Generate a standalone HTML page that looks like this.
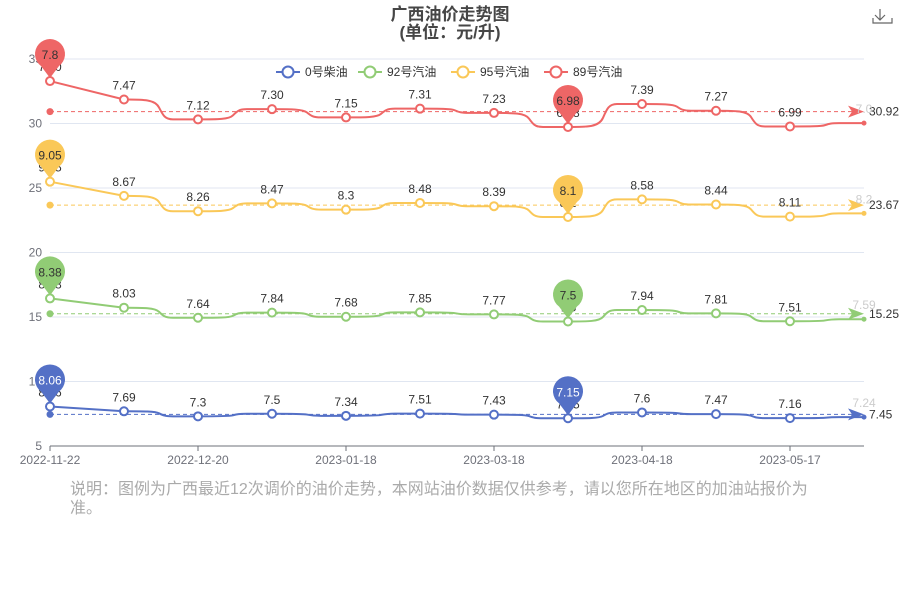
<!DOCTYPE html>
<html><head><meta charset="utf-8"><style>
body{margin:0;background:#fff;font-family:"Liberation Sans","Noto Sans CJK SC",sans-serif}
#wrap{position:relative;width:900px;height:600px}
.note{position:absolute;left:70px;top:480px;width:750px;font-size:16px;line-height:19px;color:#aaa}
</style></head><body>
<div id="wrap">
<svg id="chart" width="900" height="600" style="position:absolute;left:0;top:0"></svg>
<div class="note">说明：图例为广西最近12次调价的油价走势，本网站油价数据仅供参考，请以您所在地区的加油站报价为准。</div>
</div>
<script>
const categories=["2022-11-22","2022-12-06","2022-12-20","2023-01-03","2023-01-18","2023-02-03","2023-03-18","2023-03-31","2023-04-18","2023-05-05","2023-05-17","2023-06-01"];
const seriesNames=["0号柴油","92号汽油","95号汽油","89号汽油"];
const diesel0=[8.06,7.69,7.3,7.5,7.34,7.51,7.43,7.15,7.6,7.47,7.16,7.24];
const gas92=[8.38,8.03,7.64,7.84,7.68,7.85,7.77,7.5,7.94,7.81,7.51,7.59];
const gas95=[9.05,8.67,8.26,8.47,8.3,8.48,8.39,8.1,8.58,8.44,8.11,8.2];
const gas89=[7.8,7.47,7.12,7.30,7.15,7.31,7.23,6.98,7.39,7.27,6.99,7.0];
const labels89=["7.80","7.47","7.12","7.30","7.15","7.31","7.23","6.98","7.39","7.27","6.99","7.0"];
const yTicks=[5,10,15,20,25,30,35];
const xTickIdx=[0,2,4,6,8,10];
const colors=["#5470c6","#91cc75","#fac858","#ee6666"];
const NS="http://www.w3.org/2000/svg";
const svg=document.getElementById('chart');
const X0=50,X1=864,Y0=446,YMIN=5,YMAX=35,YTOP=59;
const x=i=>X0+i*(X1-X0)/(categories.length-1);
const y=v=>Y0-(v-YMIN)*(Y0-YTOP)/(YMAX-YMIN);
function mk(tag,attrs,parent){const e=document.createElementNS(NS,tag);for(const k in attrs)e.setAttribute(k,attrs[k]);(parent||svg).appendChild(e);return e;}
function txt(s,attrs,parent){const e=mk('text',attrs,parent);e.textContent=s;return e;}
// title
const t1=txt("广西油价走势图",{x:450,y:20,'text-anchor':'middle','font-size':17,'font-weight':'bold',fill:'#464646'});

const t2=txt("(单位：元/升)",{x:450,y:38,'text-anchor':'middle','font-size':17,'font-weight':'bold',fill:'#464646'});

// download icon
const dl=mk('path',{d:'M880 9 L880 20 M875 15 L880 20 L885 15 M878 22 L878 22 M873 18 L873 23 L892 23 L892 18',stroke:'#666',fill:'none','stroke-width':1.2});

// grid + y labels
yTicks.forEach(v=>{
 const g=mk('line',{x1:X0,x2:X1,y1:y(v),y2:y(v),stroke:v===5?'#6e7079':'#e0e6f1'});
 
 const l=txt(String(v),{x:42,y:y(v)+4,'text-anchor':'end','font-size':12,fill:'#6e7079'});
 
});
xTickIdx.forEach(i=>{
 const tk=mk('line',{x1:x(i),x2:x(i),y1:Y0,y2:Y0+5,stroke:'#6e7079'});
 
 const l=txt(categories[i],{x:x(i),y:Y0+18,'text-anchor':'middle','font-size':12,fill:'#6e7079'});
 
});
// legend
const legX=[288,370,463,556];
seriesNames.forEach((n,k)=>{
 const g=mk('g',{});
 
 mk('line',{x1:legX[k]-12,x2:legX[k]+12,y1:72,y2:72,stroke:colors[k],'stroke-width':2},g);
 mk('circle',{cx:legX[k],cy:72,r:5.5,fill:'#fff',stroke:colors[k],'stroke-width':2},g);
 txt(n,{x:legX[k]+17,y:76,'font-size':12,fill:'#333'},g);
});
// stacked
const raw=[diesel0,gas92,gas95,gas89];
let acc=categories.map(()=>0);
const stacked=raw.map(s=>{acc=acc.map((a,i)=>a+s[i]);return acc.slice();});
raw.forEach((s,k)=>{
 const st=stacked[k],c=colors[k];
 const g=mk('g',{});
 
 let d=`M${x(0)} ${y(st[0])} L${x(1)} ${y(st[1])}`;
 for(let i=1;i<st.length-1;i++){
  const xa=x(i),xb=x(i+1),xm=(xa+xb)/2,ya=y(st[i]),yb=y(st[i+1]);
  d+=` C${xa+20} ${ya} ${xm-6} ${ya} ${xm-2} ${ya+(yb-ya)*0.4} S${xm+4} ${yb} ${xm+12} ${yb} L${xb} ${yb}`;
 }
 const p=mk('path',{d,stroke:c,'stroke-width':2,fill:'none'},g);
 
 // avg markline
 const avg=st.reduce((a,b)=>a+b,0)/st.length;
 const ml=mk('line',{x1:X0,x2:X1-10,y1:y(avg),y2:y(avg),stroke:c,'stroke-dasharray':'4 3','stroke-width':1},g);
 
 mk('circle',{cx:X0,cy:y(avg),r:3.5,fill:c},g);
 mk('path',{d:`M${X1-16} ${y(avg)-6} L${X1} ${y(avg)} L${X1-16} ${y(avg)+6} L${X1-12} ${y(avg)} Z`,fill:c},g);
 const al=txt(avg.toFixed(2),{x:X1+5,y:y(avg)+4,'font-size':12,fill:'#333'},g);
 
 // points & labels
 st.forEach((v,i)=>{
  const last=i===st.length-1;
  const pt=mk('circle',{cx:x(i),cy:y(v),r:last?2.5:4,fill:last?c:'#fff',stroke:c,'stroke-width':last?0:2},g);
  
  const lab=k===3?labels89[i]:String(s[i]);
  const lt=txt(lab,{x:x(i),y:y(v)-10,'text-anchor':'middle','font-size':12,fill:last?'#ccc':'#333'},g);
  
 });
 // pins max/min of raw
 const mx=s.indexOf(Math.max(...s)),mn=s.indexOf(Math.min(...s));
 [[mx,String(s[mx])],[mn,String(s[mn])]].forEach(([i,lab])=>{
  const px=x(i),py=y(st[i]);
  const pin=mk('path',{d:`M${px} ${py-3} L${px-9} ${py-15} A15 15 0 1 1 ${px+9} ${py-15} Z`,fill:c},g);
  
  txt(lab,{x:px,y:py-22,'text-anchor':'middle','font-size':12,fill:k===0?'#fff':'#333'},g);
 });
});
</script>
</body></html>
